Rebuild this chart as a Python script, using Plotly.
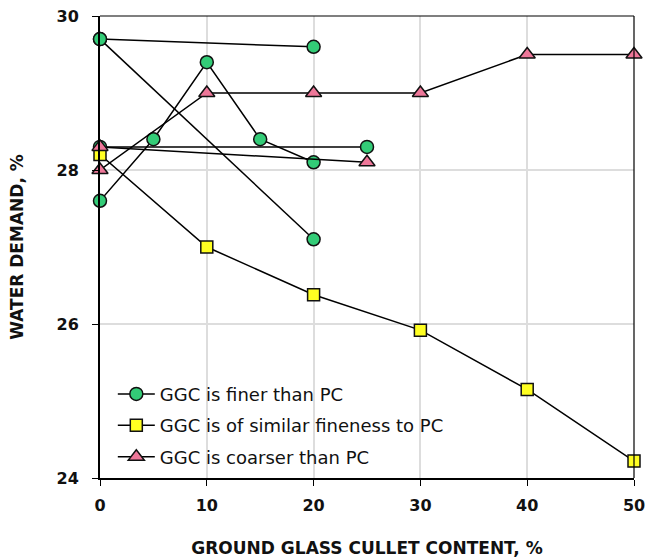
import plotly.graph_objects as go

# GGC is finer than PC (several separate studies)
finer_x = [[0, 20], [0, 20], [0, 5, 10, 15, 20], [0, 25]]
finer_y = [[29.7, 29.6], [29.7, 27.1], [27.6, 28.4, 29.4, 28.4, 28.1], [28.3, 28.3]]

# GGC is of similar fineness to PC
similar_x = [[0, 10, 20, 30, 40, 50]]
similar_y = [[28.2, 27.0, 26.38, 25.92, 25.15, 24.22]]

# GGC is coarser than PC
coarser_x = [[0, 10, 20, 30, 40, 50], [0, 25]]
coarser_y = [[28.0, 29.0, 29.0, 29.0, 29.5, 29.5], [28.3, 28.1]]

groups = [
    ('GGC is finer than PC', finer_x, finer_y, 'circle', '#33CC77', 13),
    ('GGC is of similar fineness to PC', similar_x, similar_y, 'square', '#FFFF22', 12),
    ('GGC is coarser than PC', coarser_x, coarser_y, 'triangle-up', '#EE7799', 14),
]

fig = go.Figure()
for name, xs, ys, sym, col, sz in groups:
    for i, (x, y) in enumerate(zip(xs, ys)):
        fig.add_trace(go.Scatter(
            x=x, y=y, mode='lines+markers', name=name,
            legendgroup=name, showlegend=(i == 0),
            line=dict(color='black', width=1.5),
            marker=dict(symbol=sym, size=sz, color=col,
                        line=dict(color='#111111', width=1.5)),
            cliponaxis=False,
        ))

tick_font = dict(family='DejaVu Sans', size=16, color='#111111', weight='bold')
title_font = dict(family='DejaVu Sans', size=17, color='#111111', weight='bold')

fig.update_layout(
    width=648, height=559,
    margin=dict(l=100, r=14, t=16, b=81),
    plot_bgcolor='white',
    paper_bgcolor='white',
    font=dict(family='DejaVu Sans', color='#111111'),
    xaxis=dict(
        range=[0, 50], tickvals=[0, 10, 20, 30, 40, 50],
        tickfont=tick_font, showgrid=True, gridcolor='#dddddd', gridwidth=1.5,
        zeroline=False, showline=True, linecolor='black', linewidth=2,
        ticks='outside', ticklen=6, tickcolor='black', automargin=False,
        ticklabelstandoff=6, ticklabeloverflow='allow',
        title=dict(text='GROUND GLASS CULLET CONTENT, %', font=title_font, standoff=28),
    ),
    yaxis=dict(
        range=[24, 30], tickvals=[24, 26, 28, 30],
        tickfont=tick_font, showgrid=True, gridcolor='#dddddd', gridwidth=1.5,
        zeroline=False, showline=True, linecolor='black', linewidth=2,
        ticks='outside', ticklen=6, tickcolor='black', automargin=False,
        ticklabelstandoff=10, ticklabeloverflow='allow',
        title=dict(text='WATER DEMAND, %', font=title_font, standoff=29),
    ),
    legend=dict(
        x=0.024, y=0.005, xanchor='left', yanchor='bottom',
        bgcolor='rgba(0,0,0,0)', font=dict(family='DejaVu Sans', size=18, color='#111111'),
        tracegroupgap=5, itemwidth=37,
    ),
    shapes=[
        dict(type='line', xref='paper', yref='paper', x0=0, x1=1, y0=1, y1=1,
             line=dict(color='black', width=1.2)),
        dict(type='line', xref='paper', yref='paper', x0=1, x1=1, y0=0, y1=1,
             line=dict(color='black', width=1.2)),
    ],
)

# drop the page's default 8px body margin so the figure sits at the window corner
fig.write_html('out.html', config={'displayModeBar': False},
               post_script="document.body.style.margin = '0';")
